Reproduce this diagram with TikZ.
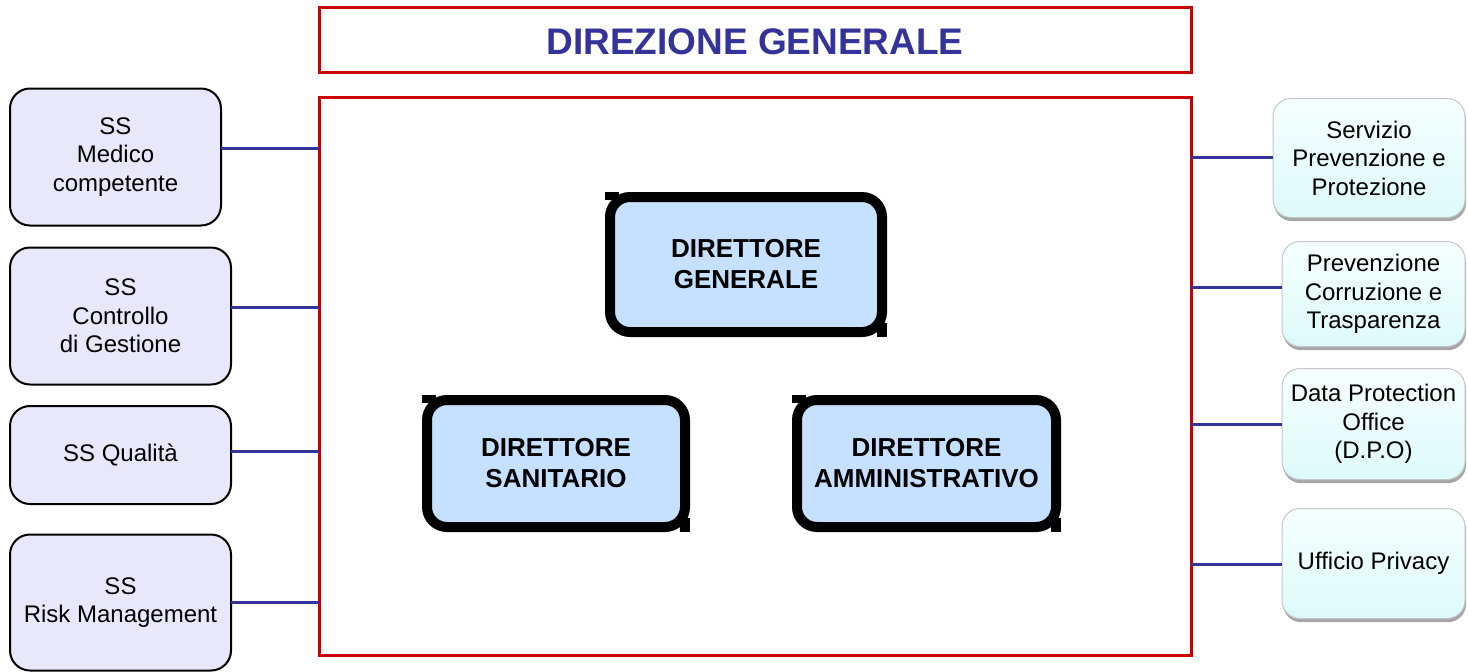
\documentclass[tikz,border=0pt]{standalone}
\usepackage{fontspec}
\setmainfont{Liberation Sans}
\usetikzlibrary{calc,shadows}
\definecolor{redline}{RGB}{204,0,0}
\definecolor{navy}{RGB}{51,51,153}
\definecolor{dirfill}{RGB}{198,224,255}
\definecolor{lavfill}{RGB}{232,232,250}
\definecolor{cyantop}{RGB}{246,255,255}
\definecolor{cyanbot}{RGB}{222,250,250}
\tikzset{
  redbox/.style={draw=redline, line width=1.5pt, inner sep=0pt, outer sep=0pt},
  dirbox/.style={draw=black, line width=5pt, fill=dirfill, rounded corners=10pt,
    inner sep=0pt, outer sep=0pt, align=center,
    font=\bfseries\fontsize{13}{15.5}\selectfont},
  leftbox/.style={draw=black, line width=1pt, fill=lavfill, rounded corners=10pt,
    inner sep=0pt, outer sep=0pt, align=center,
    font=\fontsize{12}{14.25}\selectfont},
  rightbox/.style={draw=gray!45, line width=0.5pt, top color=cyantop, bottom color=cyanbot,
    rounded corners=9pt, inner sep=0pt, outer sep=0pt, align=center,
    drop shadow={shadow xshift=0.5pt, shadow yshift=-1.8pt, fill=gray!70, opacity=1},
    font=\fontsize{12}{14.25}\selectfont},
  conn/.style={draw=navy, line width=1.5pt},
}
\begin{document}
\begin{tikzpicture}[x=0.5pt,y=-0.5pt]
\useasboundingbox (0,0) rectangle (1468,671);
% title
\node[redbox, minimum width=436pt, minimum height=32.5pt] (title) at (755,39.5) {};
\node[text=navy, font=\bfseries\fontsize{18.5}{22}\selectfont, inner sep=0pt] (titletext) at (755,42) {DIREZIONE GENERALE};
% main box
\node[redbox, minimum width=436pt, minimum height=279pt] (main) at (755,376) {};
% directors
\node[dirbox, minimum width=136pt, minimum height=67.5pt] (dg) at (746,264.5) {DIRETTORE\\GENERALE};
\node[dirbox, minimum width=129pt, minimum height=63.5pt] (ds) at (556,463.5) {DIRETTORE\\SANITARIO};
\node[dirbox, minimum width=129.5pt, minimum height=63.5pt] (da) at (926.5,463.5) {DIRETTORE\\AMMINISTRATIVO};
\foreach \n in {dg,ds,da}{
  \fill ($(\n.north west)+(-2.5pt,2.5pt)$) rectangle +(7pt,-4pt);
  \fill ($(\n.south east)+(2.5pt,-2.5pt)$) rectangle +(-5pt,7pt);
}
% left boxes
\node[leftbox, minimum width=105.5pt, minimum height=68.5pt] (l1) at (115.5,157) {SS\\Medico\\competente};
\node[leftbox, minimum width=110.5pt, minimum height=68.5pt] (l2) at (120.5,316) {SS\\Controllo\\di Gestione};
\node[leftbox, minimum width=110.5pt, minimum height=49pt] (l3) at (120.5,455) {SS Qualità};
\node[leftbox, minimum width=110.5pt, minimum height=68pt] (l4) at (120.5,602.5) {SS\\Risk Management};
% right boxes
\node[rightbox, minimum width=96pt, minimum height=59.5pt] (r1) at (1369,158) {Servizio\\Prevenzione e\\Protezione};
\node[rightbox, minimum width=91.5pt, minimum height=52.5pt] (r2) at (1373.5,294) {Prevenzione\\Corruzione e\\Trasparenza};
\node[rightbox, minimum width=91.5pt, minimum height=55.5pt] (r3) at (1373.5,424) {Data Protection\\Office\\(D.P.O)};
\node[rightbox, minimum width=91.5pt, minimum height=55pt] (r4) at (1373.5,563.5) {Ufficio Privacy};
% left connectors
\coordinate (c1) at (221,148);
\coordinate (c2) at (231,307);
\coordinate (c3) at (231,451);
\coordinate (c4) at (231,602);
\foreach \i in {1,2,3,4}{
  \draw[conn] (c\i) -- (c\i -| main.west);
}
% right connectors
\coordinate (d1) at (1273,157);
\coordinate (d2) at (1282,287);
\coordinate (d3) at (1282,424);
\coordinate (d4) at (1282,564);
\foreach \i in {1,2,3,4}{
  \draw[conn] (d\i -| main.east) -- (d\i);
}
\end{tikzpicture}
\end{document}
